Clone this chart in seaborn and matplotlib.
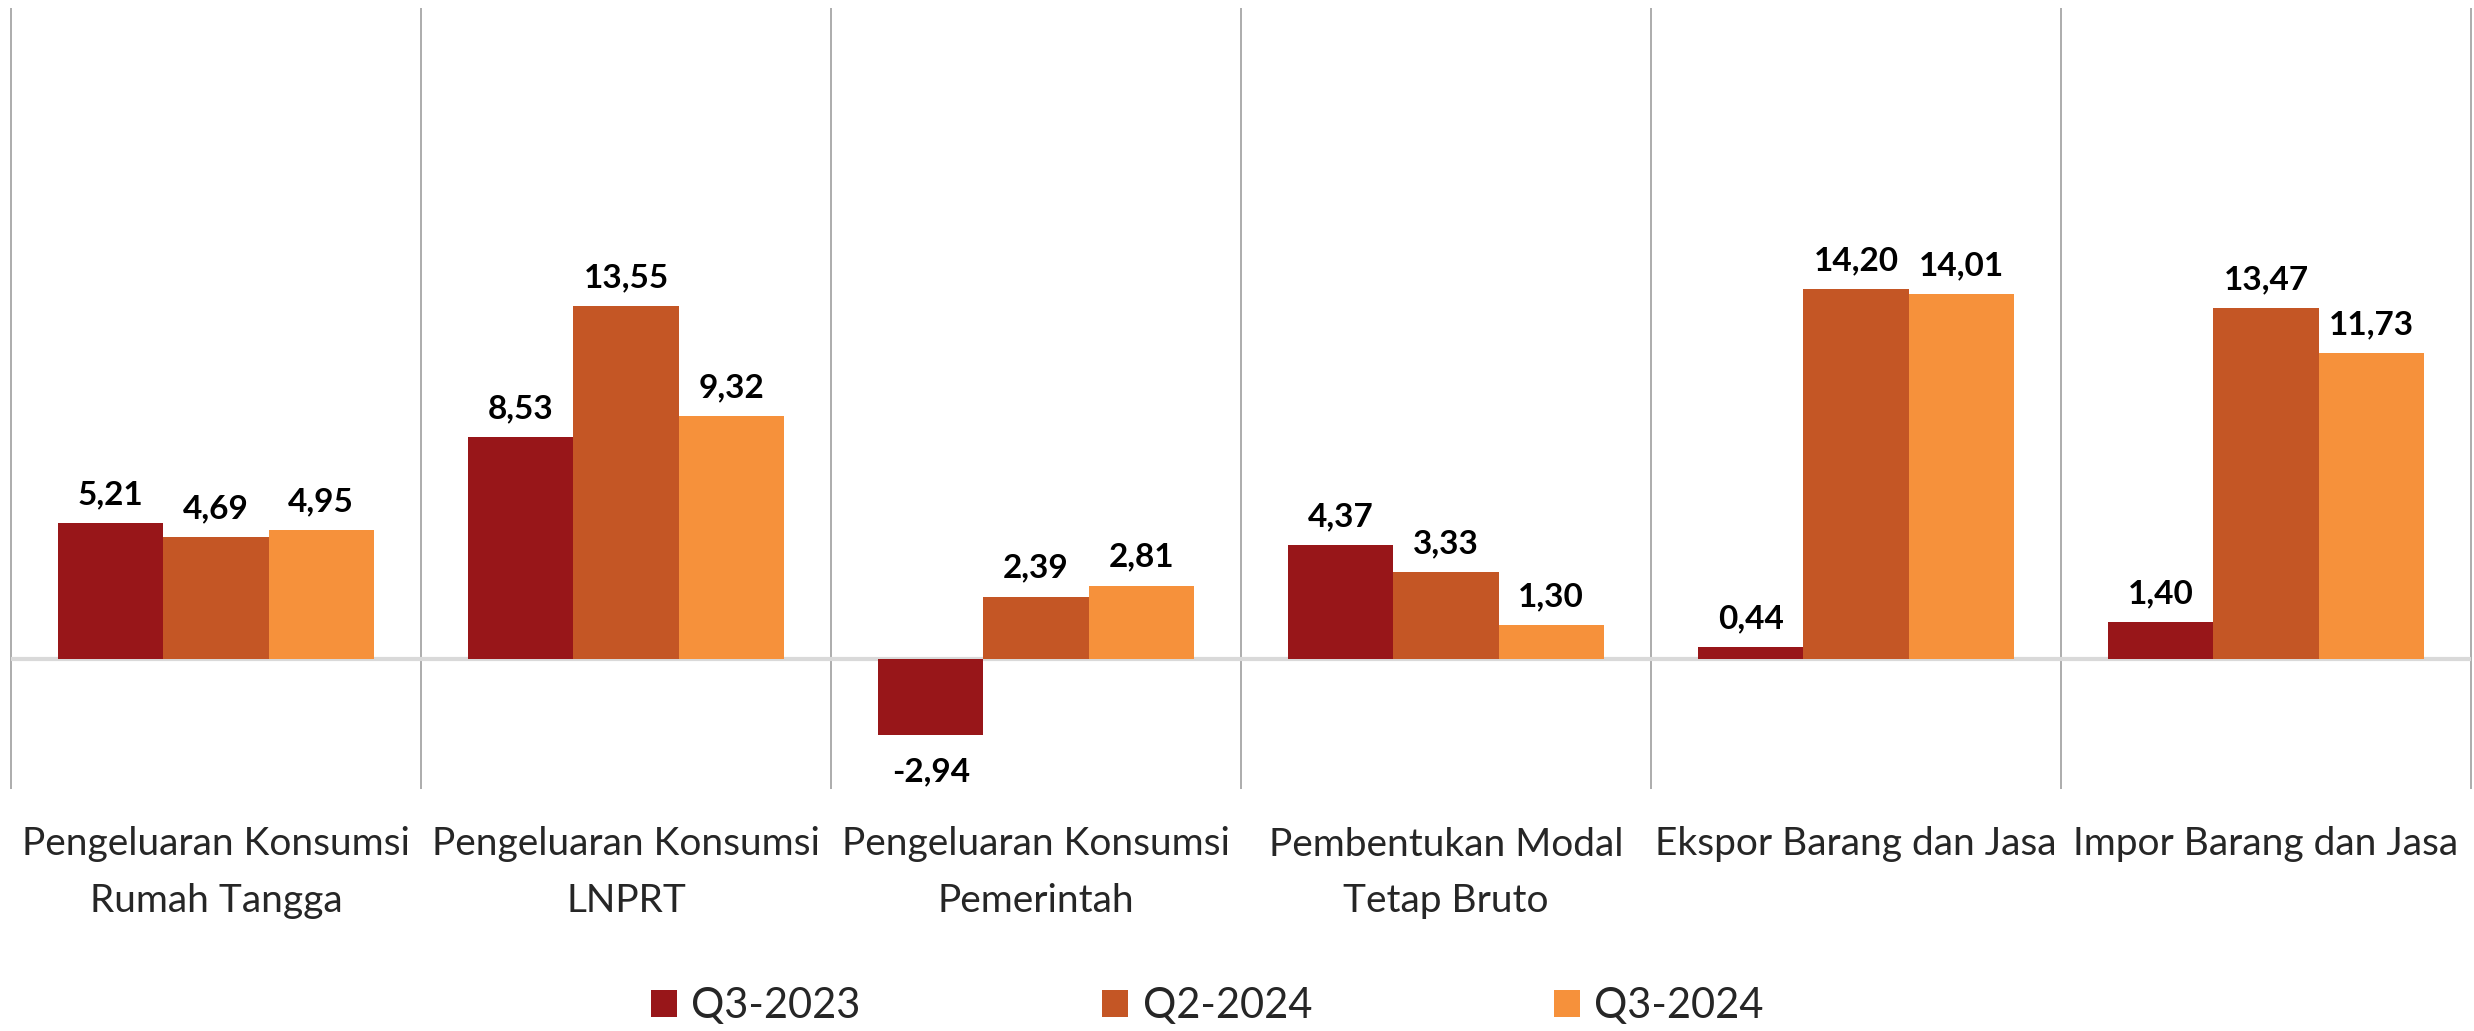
import matplotlib
matplotlib.use("Agg")
import matplotlib.pyplot as plt
import seaborn as sns
import pandas as pd
import numpy as np

# Data (growth, %)
categories = [
    "Pengeluaran Konsumsi\nRumah Tangga",
    "Pengeluaran Konsumsi\nLNPRT",
    "Pengeluaran Konsumsi\nPemerintah",
    "Pembentukan Modal\nTetap Bruto",
    "Ekspor Barang dan Jasa",
    "Impor Barang dan Jasa",
]
periods = ["Q3-2023", "Q2-2024", "Q3-2024"]
q3_2023 = [5.21, 8.53, -2.94, 4.37, 0.44, 1.40]
q2_2024 = [4.69, 13.55, 2.39, 3.33, 14.20, 13.47]
q3_2024 = [4.95, 9.32, 2.81, 1.30, 14.01, 11.73]
colors = ["#981619", "#C45625", "#F6913B"]

df = pd.DataFrame({
    "kategori": categories * 3,
    "periode": [p for p in periods for _ in categories],
    "nilai": q3_2023 + q2_2024 + q3_2024,
})

sns.set_style("white")
plt.rcParams["font.family"] = ["Lato", "DejaVu Sans"]

fig = plt.figure(figsize=(24.74, 10.31), dpi=100)
ax = fig.add_axes([11 / 2474, 242 / 1031, 2460 / 2474, 781 / 1031])

sns.barplot(data=df, x="kategori", y="nilai", hue="periode",
            order=categories, hue_order=periods, palette=colors,
            saturation=1, width=0.77, linewidth=0, ax=ax, zorder=2)

ax.set_xlim(-0.5, len(categories) - 0.5)
ax.set_ylim(-5, 25)

# category separators and zero line
ax.vlines(np.arange(len(categories) + 1) - 0.5, -5, 25,
          color="#a6a6a6", lw=1.3, clip_on=False, zorder=1)
ax.axhline(0, color="#d9d9d9", lw=3, zorder=1)

# data labels with comma as decimal separator
for cont in ax.containers:
    labels = [f"{b.get_height():.2f}".replace(".", ",") for b in cont]
    anns = ax.bar_label(cont, labels=labels, padding=10, fontsize=24,
                        fontweight="bold", color="black")
    for b, a in zip(cont, anns):
        if b.get_height() < 0:
            a.xyann = (0, -16)

for s in ax.spines.values():
    s.set_visible(False)
ax.set_yticks([])
ax.set_xlabel("")
ax.set_ylabel("")
ax.tick_params(axis="x", length=0, pad=27, labelsize=28)
for t in ax.get_xticklabels():
    t.set_linespacing(1.7)

leg = ax.legend(loc="lower center", bbox_to_anchor=(0.488, 0.0),
                bbox_transform=fig.transFigure, ncol=3, frameon=False,
                fontsize=30, handlelength=0.62, handleheight=0.62,
                handletextpad=0.35, columnspacing=5.8, borderaxespad=-0.25)

fig.savefig("out.png", dpi=100)
